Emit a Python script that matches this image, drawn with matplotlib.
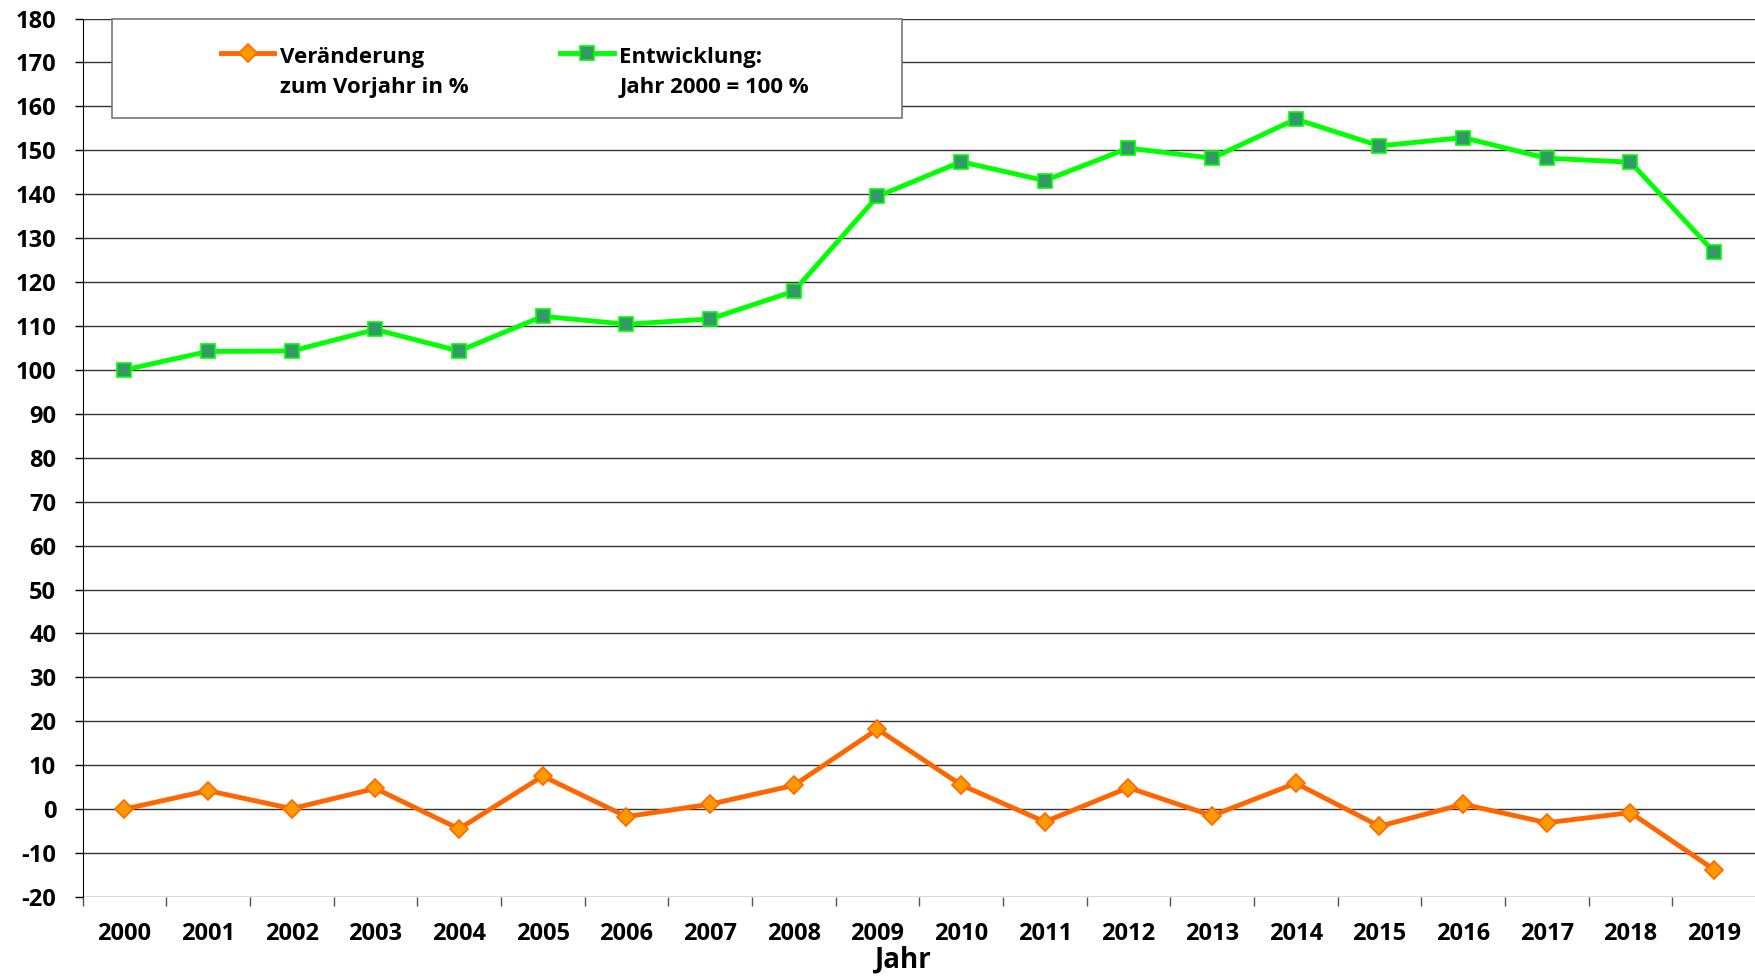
import matplotlib
matplotlib.use("Agg")
import matplotlib.pyplot as plt
from matplotlib.patches import Rectangle
from matplotlib.lines import Line2D

plt.rcParams['font.family'] = ['Open Sans', 'DejaVu Sans']
plt.rcParams['font.weight'] = 'bold'
plt.rcParams['axes.unicode_minus'] = False

jahre = [str(j) for j in range(2000, 2020)]
veraenderung = [0.0, 4.2, 0.1, 4.7, -4.5, 7.5, -1.7, 1.1, 5.4, 18.2,
                5.5, -2.9, 4.9, -1.5, 5.9, -3.9, 1.1, -3.1, -0.8, -13.8]
entwicklung = [100.0, 104.2, 104.3, 109.2, 104.3, 112.2, 110.4, 111.6, 117.9, 139.5,
               147.4, 143.1, 150.5, 148.2, 157.1, 151.0, 152.9, 148.2, 147.3, 126.8]
label_v = 'Veränderung\nzum Vorjahr in %'
label_e = 'Entwicklung:\nJahr 2000 = 100 %'

orange, orange_fill = '#FF6600', '#FF9900'
gruen, gruen_fill = '#00FF00', '#339966'

fig = plt.figure(figsize=(17.56, 9.76), dpi=100)
ax = fig.add_axes([0.047, 0.081, 0.953, 0.9])

x = list(range(len(jahre)))
stil_v = dict(color=orange, lw=3.5, ms=9, mfc=orange_fill, mec=orange, mew=1.2)
stil_e = dict(color=gruen, lw=3.5, ms=10, mfc=gruen_fill, mec=gruen, mew=1.2)
ax.plot(x, veraenderung, marker='D', zorder=3, **stil_v)
ax.plot(x, entwicklung, marker='s', zorder=3, **stil_e)

ax.set_xlim(-0.5, len(jahre) - 0.5)
ax.set_ylim(-20, 180)
ax.set_yticks(range(-20, 181, 10))
ax.set_xticks(x)
ax.set_xticklabels(jahre)
ax.set_xticks([i - 0.5 for i in range(len(jahre) + 1)], minor=True)
ax.tick_params(axis='x', which='major', length=0, pad=18, labelsize=17)
ax.tick_params(axis='x', which='minor', length=6.5, width=1, color='#555555', direction='out')
ax.tick_params(axis='y', length=6, width=1, labelsize=17, pad=13)

ax.grid(axis='y', color='#333333', lw=1)
ax.set_axisbelow(True)
for s in ['top', 'right', 'bottom']:
    ax.spines[s].set_visible(False)
ax.spines['left'].set_color('black')

ax.set_xlabel('Jahr', fontsize=20, fontweight='bold', labelpad=0)
ax.xaxis.label.set_x(0.49)

# legend box drawn by hand so the layout matches
ax.add_patch(Rectangle((0.0176, 0.8865), 0.4719, 0.1135, transform=ax.transAxes,
                       facecolor='white', edgecolor='#777777', lw=1.2, zorder=5, clip_on=False))
for (x0, x1, tx), lab, stil, mk in [((0.0825, 0.1147, 0.118), label_v, stil_v, 'D'),
                                   ((0.2853, 0.3175, 0.3208), label_e, stil_e, 's')]:
    ax.add_line(Line2D([x0, (x0 + x1) / 2, x1], [0.9604] * 3, transform=ax.transAxes,
                       zorder=6, marker=mk, markevery=[1], **stil))
    ax.text(tx, 0.968, lab, transform=ax.transAxes, fontsize=16, fontweight='bold',
            va='top', ha='left', linespacing=1.6, zorder=7)

fig.savefig('out.png', dpi=100)
